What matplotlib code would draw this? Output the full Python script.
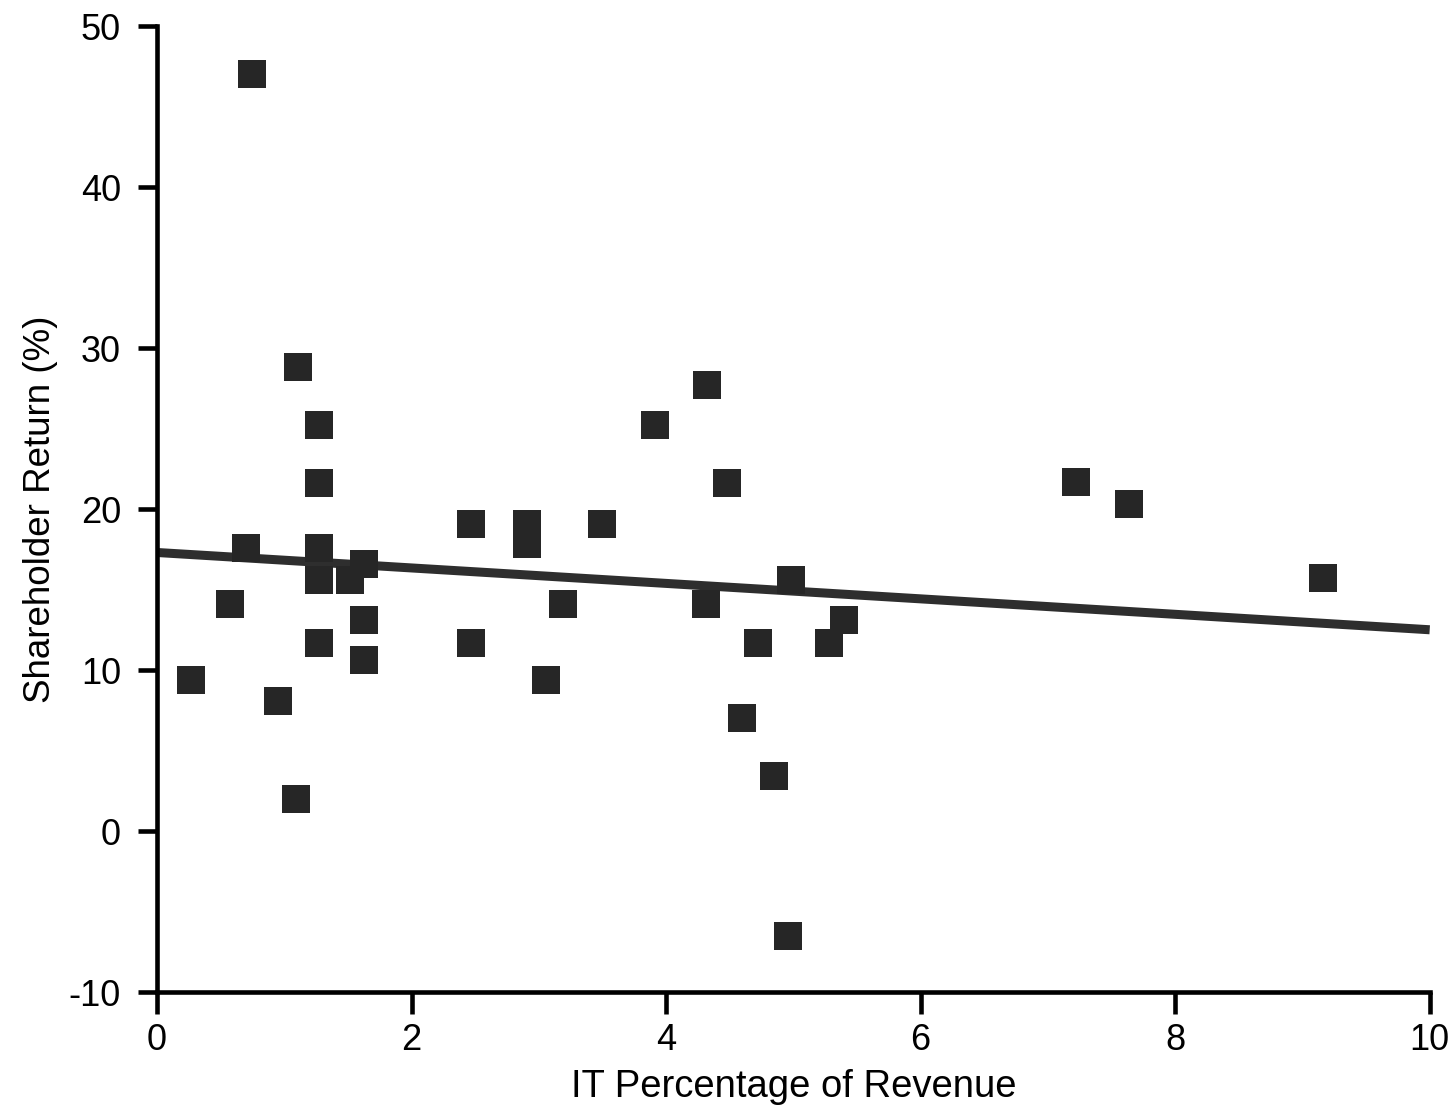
#!/usr/bin/env python3
"""IT spending vs shareholder return scatter with trend line"""

import matplotlib
matplotlib.use("Agg")
import matplotlib.pyplot as plt

# IT spend as % of revenue
it_pct = [0.75, 1.11, 1.27, 1.27, 1.27, 1.27, 1.27, 0.70, 0.57, 0.27,
          0.95, 1.09, 1.52, 1.63, 1.63, 1.63, 2.47, 2.47, 2.91, 2.91,
          3.06, 3.19, 3.50, 3.91, 4.32, 4.31, 4.48, 4.60, 4.72, 4.85,
          4.96, 4.98, 5.28, 5.40, 7.22, 7.64, 9.16]
# shareholder return %
ret_pct = [47.0, 28.8, 25.2, 21.6, 17.6, 15.6, 11.7, 17.6, 14.1, 9.4,
           8.1, 2.0, 15.6, 16.6, 13.1, 10.6, 19.1, 11.7, 19.1, 17.8,
           9.4, 14.1, 19.1, 25.2, 27.7, 14.1, 21.6, 7.0, 11.7, 3.4,
           -6.5, 15.6, 11.7, 13.1, 21.7, 20.3, 15.7]

# fitted trend
trend_x = [0, 10]
trend_y = [17.3, 12.5]

FONT = ["Liberation Sans", "DejaVu Sans"]
plt.rcParams["font.family"] = FONT
plt.rcParams["axes.unicode_minus"] = False

fig = plt.figure(figsize=(14.5, 11.12), dpi=100)
ax = fig.add_axes([0.1083, 0.1079, 0.8777, 0.8687])

ax.plot(trend_x, trend_y, color="#2e2e2e", lw=6.5, solid_capstyle="butt", zorder=2)
ax.plot(it_pct, ret_pct, "s", color="#262626", ms=19.5, mew=0, zorder=3)

ax.set_xlim(0, 10)
ax.set_ylim(-10, 50)
ax.set_xticks([0, 2, 4, 6, 8, 10])
ax.set_yticks([-10, 0, 10, 20, 30, 40, 50])

for s in ("top", "right"):
    ax.spines[s].set_visible(False)
for s in ("left", "bottom"):
    ax.spines[s].set_linewidth(3.3)
    ax.spines[s].set_color("black")

ax.tick_params(axis="y", direction="out", length=14, width=3.3, pad=12, labelsize=26)
ax.tick_params(axis="x", direction="out", length=16, width=3.3, pad=6, labelsize=26)

ax.set_xlabel("IT Percentage of Revenue", fontsize=27.5, labelpad=8)
ax.set_ylabel("Shareholder Return (%)", fontsize=26.5, labelpad=8)

fig.savefig("out.png", dpi=100)
